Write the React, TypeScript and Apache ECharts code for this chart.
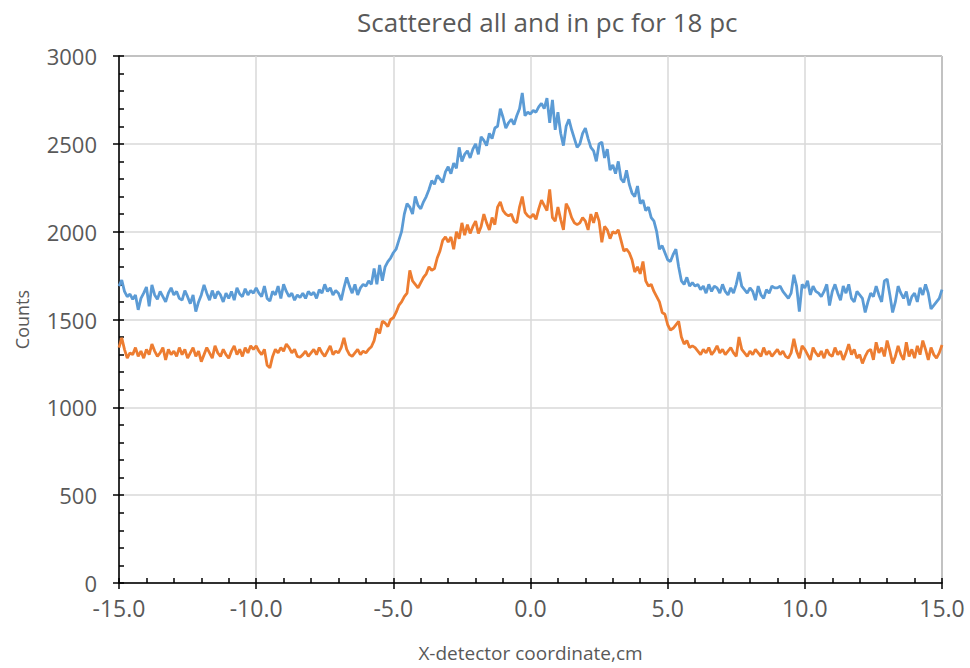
import React, { useEffect, useRef } from "react";
import * as echarts from "echarts";

const TITLE = "Scattered all and in pc for 18 pc";
const X_NAME = "X-detector coordinate,cm";
const Y_NAME = "Counts";
const X_START = -15;
const X_STEP = 0.1;

// Scattered all (blue), x = -15.0 .. 15.0 step 0.1
const scatteredAll: number[] = [
  1690, 1725, 1660, 1630, 1645, 1615, 1640, 1555, 1620, 1650,
  1685, 1575, 1697, 1640, 1615, 1660, 1630, 1600, 1650, 1680,
  1640, 1660, 1620, 1610, 1665, 1630, 1590, 1640, 1545, 1600,
  1640, 1697, 1650, 1610, 1665, 1620, 1660, 1640, 1600, 1650,
  1620, 1660, 1610, 1680, 1645, 1630, 1675, 1640, 1665, 1650,
  1680, 1650, 1630, 1690, 1620, 1605, 1660, 1640, 1690, 1620,
  1700, 1660, 1630, 1650, 1610, 1640, 1625, 1650, 1620, 1660,
  1640, 1655, 1620, 1670, 1650, 1700, 1660, 1680, 1640, 1665,
  1650, 1610, 1680, 1740, 1690, 1650, 1700, 1640, 1680, 1700,
  1690, 1720, 1700, 1790, 1700, 1810, 1720, 1800, 1830, 1850,
  1880, 1900, 1950, 2000, 2100, 2160, 2140, 2100, 2200, 2150,
  2130, 2170, 2200, 2240, 2290, 2270, 2320, 2300, 2280, 2340,
  2370, 2330, 2390, 2360, 2480, 2400, 2440, 2460, 2420, 2470,
  2500, 2440, 2540, 2520, 2490, 2560, 2530, 2590, 2600, 2700,
  2650, 2590, 2620, 2640, 2610, 2660, 2700, 2790, 2660, 2680,
  2670, 2690, 2680, 2710, 2730, 2700, 2760, 2620, 2750, 2580,
  2680, 2560, 2490, 2600, 2640, 2580, 2530, 2480, 2500, 2560,
  2590, 2530, 2480, 2460, 2400, 2500, 2510, 2420, 2470, 2350,
  2380, 2330, 2400, 2300, 2280, 2350, 2270, 2220, 2200, 2260,
  2160, 2180, 2120, 2140, 2080, 2060, 2000, 1900, 1920, 1880,
  1840, 1830, 1870, 1900, 1800, 1720, 1700, 1740, 1690, 1710,
  1690, 1700, 1670, 1690, 1650, 1700, 1660, 1690, 1680, 1650,
  1700, 1660, 1640, 1680, 1650, 1700, 1770, 1690, 1670, 1650,
  1680, 1660, 1610, 1690, 1640, 1620, 1670, 1650, 1690, 1680,
  1680, 1690, 1660, 1640, 1620, 1650, 1755, 1690, 1545, 1700,
  1680, 1720, 1640, 1690, 1660, 1650, 1630, 1660, 1700, 1580,
  1660, 1700, 1650, 1610, 1690, 1650, 1700, 1620, 1600, 1660,
  1640, 1620, 1540, 1600, 1650, 1630, 1690, 1640, 1600, 1720,
  1730, 1640, 1540, 1600, 1690, 1650, 1620, 1660, 1580, 1630,
  1650, 1600, 1680, 1640, 1700, 1650, 1560, 1580, 1600, 1620,
  1670,
];

// Scattered in pc (orange), x = -15.0 .. 15.0 step 0.1
const scatteredInPc: number[] = [
  1340, 1395, 1330, 1280, 1310, 1300, 1340, 1290, 1320, 1280,
  1330, 1300, 1360, 1320, 1290, 1310, 1340, 1270, 1330, 1300,
  1320, 1290, 1340, 1300, 1330, 1280, 1310, 1340, 1290, 1320,
  1260, 1300, 1340, 1310, 1280, 1350, 1310, 1290, 1330, 1300,
  1280, 1320, 1350, 1300, 1330, 1290, 1340, 1310, 1350, 1330,
  1350, 1320, 1300, 1330, 1240, 1225, 1290, 1330, 1310, 1340,
  1320, 1360, 1340, 1310, 1330, 1290, 1285, 1300, 1320, 1290,
  1310, 1330, 1300, 1340, 1310, 1290, 1320, 1350, 1300, 1320,
  1310, 1340, 1395, 1330, 1300, 1290, 1310, 1330, 1300, 1320,
  1310, 1330, 1345, 1380, 1450, 1420, 1490, 1480, 1460, 1500,
  1510, 1540, 1580, 1600, 1630, 1650, 1780, 1720, 1700, 1680,
  1710, 1740, 1760, 1800, 1780, 1790, 1850, 1890, 1950, 1970,
  1940, 1970, 1900, 2000, 1960, 2050, 1980, 2040, 1990, 2030,
  2060, 1990, 2030, 2100, 2050, 2010, 2080, 2040, 2140, 2170,
  2120, 2100, 2090, 2100, 2060, 2050, 2140, 2200, 2110, 2090,
  2080, 2100, 2070, 2130, 2180, 2150, 2120, 2240, 2080, 2060,
  2140, 2070, 2010, 2160, 2130, 2080, 2050, 2040, 2050, 2080,
  2060, 2010, 2100, 2050, 2110, 2060, 1940, 2030, 2010, 1960,
  2000, 1990, 2010, 1950, 1890, 1900, 1880, 1840, 1770, 1800,
  1760, 1830, 1720, 1690, 1700, 1660, 1630, 1600, 1540, 1530,
  1470, 1440, 1450, 1470, 1490, 1400, 1360, 1380, 1340, 1350,
  1340, 1320, 1300, 1330, 1310, 1340, 1300, 1320, 1350, 1310,
  1330, 1300, 1320, 1340, 1310, 1290, 1400, 1330, 1310, 1290,
  1320, 1300, 1330, 1310, 1290, 1340, 1300, 1320, 1290, 1310,
  1330, 1300, 1320, 1290, 1280, 1310, 1390, 1320, 1280, 1350,
  1330, 1300, 1270, 1340, 1310, 1290, 1320, 1280, 1330, 1300,
  1290, 1340, 1300, 1320, 1270, 1310, 1360, 1300, 1330, 1280,
  1300, 1250, 1290, 1320, 1330, 1270, 1370, 1310, 1340, 1290,
  1380, 1320, 1250, 1290, 1350, 1300, 1270, 1370, 1290, 1330,
  1280, 1350, 1300, 1380, 1330, 1270, 1340, 1300, 1280, 1310,
  1355,
];

const toPairs = (vals: number[]) =>
  vals.map((v, i) => [Number((X_START + i * X_STEP).toFixed(1)), v]);

const FONT = "'Open Sans', 'Noto Sans', sans-serif";
const TXT = "#595959";

export default function App() {
  const ref = useRef<HTMLDivElement>(null);
  useEffect(() => {
    document.body.style.margin = "0";
    if (!ref.current) return;
    const chart = echarts.init(ref.current, undefined, { renderer: "svg" });
    chart.setOption({
      animation: false,
      backgroundColor: "#ffffff",
      title: {
        text: TITLE,
        left: 352,
        top: 4,
        textStyle: { color: TXT, fontSize: 26, fontWeight: "normal", fontFamily: FONT },
      },
      grid: {
        left: 119,
        right: 28,
        top: 56,
        bottom: 85,
        show: true,
        borderColor: "#000",
        borderWidth: 1,
      },
      xAxis: [
        {
          type: "value",
          min: -15,
          max: 15,
          interval: 5,
          name: X_NAME,
          nameLocation: "middle",
          nameGap: 60,
          nameTextStyle: { color: TXT, fontSize: 19, fontFamily: FONT },
          axisLine: { show: true, onZero: false, lineStyle: { color: "#000", width: 1.5 } },
          axisTick: { show: true, inside: false, length: 6, lineStyle: { color: "#000", width: 1.5 } },
          axisLabel: {
            color: TXT,
            fontSize: 23,
            fontFamily: FONT,
            margin: 13,
            formatter: (v: number) => v.toFixed(1),
          },
          splitLine: { show: true, lineStyle: { color: "#d9d9d9", width: 1.5 } },
        },
        {
          type: "value",
          min: -15,
          max: 15,
          interval: 1,
          position: "bottom",
          axisLine: { show: false, onZero: false },
          axisTick: { show: true, inside: true, length: 5, lineStyle: { color: "#000", width: 1.5 } },
          axisLabel: { show: false },
          splitLine: { show: false },
        },
      ],
      yAxis: [
        {
          type: "value",
          min: 0,
          max: 3000,
          interval: 500,
          name: Y_NAME,
          nameLocation: "middle",
          nameGap: 88,
          nameRotate: 90,
          nameTextStyle: { color: TXT, fontSize: 18, fontFamily: FONT },
          axisLine: { show: true, onZero: false, lineStyle: { color: "#000", width: 1.5 } },
          axisTick: { show: true, inside: false, length: 6, lineStyle: { color: "#000", width: 1.5 } },
          axisLabel: {
            color: TXT,
            fontSize: 22,
            fontFamily: FONT,
            margin: 22,
            formatter: (v: number) => String(v),
          },
          splitLine: { show: true, lineStyle: { color: "#d9d9d9", width: 1.5 } },
        },
        {
          type: "value",
          min: 0,
          max: 3000,
          interval: 100,
          position: "left",
          axisLine: { show: false, onZero: false },
          axisTick: { show: true, inside: true, length: 5, lineStyle: { color: "#000", width: 1.5 } },
          axisLabel: { show: false },
          splitLine: { show: false },
        },
      ],
      series: [
        {
          name: "Scattered all",
          type: "line",
          xAxisIndex: 0,
          yAxisIndex: 0,
          data: toPairs(scatteredAll),
          showSymbol: false,
          symbol: "none",
          lineStyle: { color: "#5B9BD5", width: 2.8 },
          itemStyle: { color: "#5B9BD5" },
        },
        {
          name: "Scattered in pc",
          type: "line",
          xAxisIndex: 0,
          yAxisIndex: 0,
          data: toPairs(scatteredInPc),
          showSymbol: false,
          symbol: "none",
          lineStyle: { color: "#ED7D31", width: 2.8 },
          itemStyle: { color: "#ED7D31" },
        },
      ],
    });
    return () => chart.dispose();
  }, []);
  return <div ref={ref} style={{ width: 970, height: 668 }} />;
}
